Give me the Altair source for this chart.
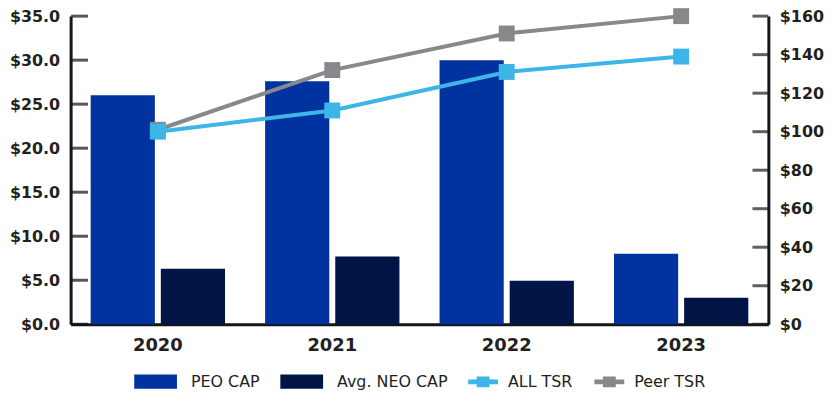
import altair as alt
import pandas as pd

YEARS = ["2020", "2021", "2022", "2023"]
BAR_SERIES = ["PEO CAP", "Avg. NEO CAP"]
PEO_CAP = [26.0, 27.6, 30.0, 8.0]
NEO_CAP = [6.3, 7.7, 4.95, 3.0]
LINE_SERIES = ["ALL TSR", "Peer TSR"]
ALL_TSR = [100, 111, 131, 139]
PEER_TSR = [101, 132, 151, 160]
LEFT_TICKS = [0, 5, 10, 15, 20, 25, 30, 35]
RIGHT_TICKS = [0, 20, 40, 60, 80, 100, 120, 140, 160]
BAR_COLORS = ["#0033A0", "#001446"]
LINE_COLORS = ["#3DB5E6", "#87888B"]

W, H = 702, 310
FONT = "DejaVu Sans"
TXT = "#231F20"
AX = "#151515"
TICK_L = "#0c1020"
TICK_R = "#1b1b2b"

bar_df = pd.DataFrame({
    "year": YEARS * 2,
    "series": [BAR_SERIES[0]] * 4 + [BAR_SERIES[1]] * 4,
    "value": PEO_CAP + NEO_CAP,
})
line_df = pd.DataFrame({
    "year": YEARS * 2,
    "series": [LINE_SERIES[1]] * 4 + [LINE_SERIES[0]] * 4,
    "tsr": PEER_TSR + ALL_TSR,
})
lt_df = pd.DataFrame({"v": LEFT_TICKS})
rt_df = pd.DataFrame({"v": RIGHT_TICKS})

x_scale = alt.Scale(domain=YEARS, paddingInner=0.23, paddingOuter=0.115)
x_axis = alt.Axis(title=None, labelAngle=0, ticks=False, tickSize=0, grid=False,
                  domainColor=AX, domainWidth=3, labelFont=FONT,
                  labelFontSize=18, labelFontWeight="bold", labelColor=TXT,
                  labelPadding=12)
yl_scale = alt.Scale(domain=[0, 35], nice=False)
yr_scale = alt.Scale(domain=[0, 160], nice=False)


def y_axis(values, fmt, orient):
    return alt.Axis(title=None, values=values, format=fmt, ticks=False, tickSize=0,
                    grid=False, domainColor=AX, domainWidth=3,
                    labelFont=FONT, labelFontSize=16, labelFontWeight="bold",
                    labelColor=TXT, labelPadding=11, orient=orient)


yl_axis = y_axis(LEFT_TICKS, "$.1f", "left")
yr_axis = y_axis(RIGHT_TICKS, "$.0f", "right")

RECT = "M-1,-0.33L1,-0.33L1,0.33L-1,0.33Z"
LINESYM = ("M-1,-0.16L-0.43,-0.16L-0.43,-0.36L0.43,-0.36L0.43,-0.16L1,-0.16"
           "L1,0.16L0.43,0.16L0.43,0.36L-0.43,0.36L-0.43,0.16L-1,0.16Z")

bars = alt.Chart(bar_df).mark_bar().encode(
    x=alt.X("year:N", scale=x_scale, axis=x_axis),
    xOffset=alt.XOffset("series:N", scale=alt.Scale(domain=BAR_SERIES, paddingInner=0.085)),
    y=alt.Y("value:Q", scale=yl_scale, axis=yl_axis),
    color=alt.Color("series:N", scale=alt.Scale(domain=BAR_SERIES, range=BAR_COLORS),
                    legend=alt.Legend(title=None, orient="none", legendX=64, legendY=346,
                                      direction="horizontal", symbolType=RECT,
                                      symbolSize=1849, symbolStrokeWidth=0,
                                      labelOffset=14, columnPadding=20, padding=0,
                                      labelFont=FONT, labelFontSize=16, labelColor=TXT)),
)
left_ticks = alt.Chart(lt_df).mark_tick(color=TICK_L, thickness=3, size=17,
                                         orient="horizontal").encode(
    y=alt.Y("v:Q", scale=yl_scale, axis=yl_axis),
    x=alt.value(9),
)


def line_layer(i):
    return alt.Chart(line_df).transform_filter(
        alt.datum.series == LINE_SERIES[i]
    ).mark_line(strokeWidth=4, color=LINE_COLORS[i]).encode(
        x=alt.X("year:N", scale=x_scale, axis=x_axis),
        y=alt.Y("tsr:Q", scale=yr_scale, axis=yr_axis),
    )


points = alt.Chart(line_df).mark_point(filled=True, shape="square", size=256, opacity=1).encode(
    x=alt.X("year:N", scale=x_scale, axis=x_axis),
    y=alt.Y("tsr:Q", scale=yr_scale, axis=yr_axis),
    color=alt.Color("series:N", scale=alt.Scale(domain=LINE_SERIES, range=LINE_COLORS),
                    legend=alt.Legend(title=None, orient="none", legendX=400, legendY=353,
                                      direction="horizontal", symbolType=LINESYM,
                                      symbolSize=900, symbolStrokeWidth=0,
                                      labelOffset=10, columnPadding=22, padding=0,
                                      labelFont=FONT, labelFontSize=16, labelColor=TXT)),
)
right_ticks = alt.Chart(rt_df).mark_tick(color=TICK_R, thickness=3, size=16,
                                          orient="horizontal").encode(
    y=alt.Y("v:Q", scale=yr_scale, axis=yr_axis),
    x=alt.value(W - 8),
)

chart = alt.layer(
    alt.layer(bars, left_ticks),
    alt.layer(line_layer(1), line_layer(0), points, right_ticks),
).resolve_scale(y="independent", color="independent").properties(
    width=W, height=H,
    autosize=alt.AutoSizeParams(type="none"),
    padding={"left": 63, "top": 7, "right": 60, "bottom": 69},
).configure_view(stroke=None)

chart.save("out.html", embed_options={"renderer": "svg", "actions": False})
